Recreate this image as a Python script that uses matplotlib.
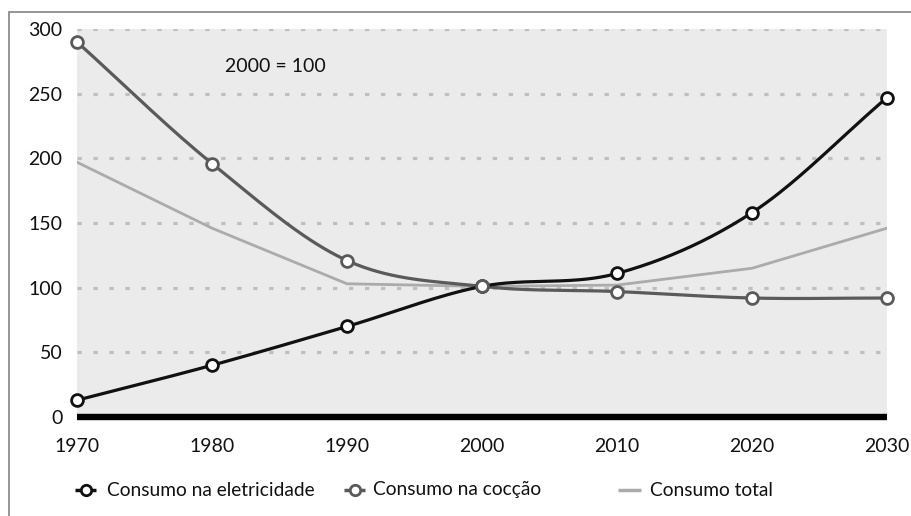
import numpy as np
import matplotlib
matplotlib.use("Agg")
import matplotlib.pyplot as plt
from matplotlib.lines import Line2D
from matplotlib.patches import Rectangle

plt.rcParams['font.family'] = ['Lato', 'DejaVu Sans']

years = [1970, 1980, 1990, 2000, 2010, 2020, 2030]
eletricidade = [13, 40, 70, 101, 111, 158, 247]
coccao = [290, 196, 121, 101, 97, 92, 92]
total = [197, 146, 103, 101, 102, 115, 146]
y_ticks = [0, 50, 100, 150, 200, 250, 300]
labels = ["Consumo na eletricidade", "Consumo na cocção", "Consumo total"]
note = "2000 = 100"


def smooth(x, y, n=40):
    """Catmull-Rom cubic Hermite curve through the given points."""
    x = np.asarray(x, float)
    y = np.asarray(y, float)
    m = np.zeros_like(y)
    m[1:-1] = (y[2:] - y[:-2]) / (x[2:] - x[:-2])
    m[0] = (y[1] - y[0]) / (x[1] - x[0])
    m[-1] = (y[-1] - y[-2]) / (x[-1] - x[-2])
    xs, ys = [], []
    for i in range(len(x) - 1):
        h = x[i + 1] - x[i]
        t = np.linspace(0, 1, n, endpoint=(i == len(x) - 2))
        h00 = 2 * t**3 - 3 * t**2 + 1
        h10 = t**3 - 2 * t**2 + t
        h01 = -2 * t**3 + 3 * t**2
        h11 = t**3 - t**2
        xs.append(x[i] + t * h)
        ys.append(h00 * y[i] + h10 * h * m[i] + h01 * y[i + 1] + h11 * h * m[i + 1])
    return np.concatenate(xs), np.concatenate(ys)


W, H = 911, 516
fig = plt.figure(figsize=(W / 100, H / 100), dpi=100)
fig.patch.set_facecolor('white')

# outer frame (open at the bottom and right of the canvas)
fig.add_artist(Rectangle((9 / W, -0.1), 1.2, 1.1 - 12 / H,
                         transform=fig.transFigure, fill=False,
                         edgecolor='#8c8c8c', linewidth=1.3))

ax = fig.add_axes([77 / W, (H - 417) / H, 810 / W, 388 / H])
ax.set_facecolor('#ebebeb')
ax.set_xlim(1970, 2030)
ax.set_ylim(0, 300)

for v in y_ticks[1:]:
    ax.axhline(v, color='#bfbfbf', linewidth=2.3,
               linestyle=(0, (1.35, 3.65)), dash_capstyle='butt', zorder=1)

# thick baseline
ax.axhline(0, color='black', linewidth=4.6, zorder=2, solid_capstyle='butt',
           clip_on=False)

col_e, col_c, col_t = '#111111', '#5a5a5a', '#ababab'

ax.plot(years, total, color=col_t, linewidth=2.0, zorder=3)

xc, yc = smooth(years, coccao)
ax.plot(xc, yc, color=col_c, linewidth=2.3, zorder=4)
ax.plot(years, coccao, linestyle='none', marker='o', markersize=8.5,
        markerfacecolor='white', markeredgecolor=col_c, markeredgewidth=2,
        zorder=6, clip_on=False)

xe, ye = smooth(years, eletricidade)
ax.plot(xe, ye, color=col_e, linewidth=2.3, zorder=5)
ax.plot(years, eletricidade, linestyle='none', marker='o', markersize=8.5,
        markerfacecolor='white', markeredgecolor=col_e, markeredgewidth=2,
        zorder=5.5, clip_on=False)

ax.text(1981, 271, note, fontsize=14, color='#111111', va='center', ha='left')

for s in ax.spines.values():
    s.set_visible(False)
ax.set_xticks(years)
ax.set_yticks(y_ticks)
ax.tick_params(axis='both', length=0, labelsize=14, colors='#111111')
ax.tick_params(axis='y', pad=10.5)
ax.tick_params(axis='x', pad=15)

# legend row drawn in figure pixel coordinates
ly = 1 - 490 / H
def px(x):
    return x / W

entries = [
    (75, 96, col_e, True, 107, labels[0]),
    (344, 365, col_c, True, 373, labels[1]),
    (618, 641, col_t, False, 650, labels[2]),
]
for x0, x1, c, mk, tx, lab in entries:
    fig.add_artist(Line2D([px(x0), px(x1)], [ly, ly], transform=fig.transFigure,
                          color=c, linewidth=2.5, solid_capstyle='butt'))
    if mk:
        fig.add_artist(Line2D([px((x0 + x1) / 2)], [ly], transform=fig.transFigure,
                              linestyle='none', marker='o', markersize=7.5,
                              markerfacecolor='white', markeredgecolor=c,
                              markeredgewidth=2))
    fig.text(px(tx), ly, lab, fontsize=13.8, color='#111111', va='center', ha='left')

fig.savefig('out.png', dpi=100, facecolor='white')
